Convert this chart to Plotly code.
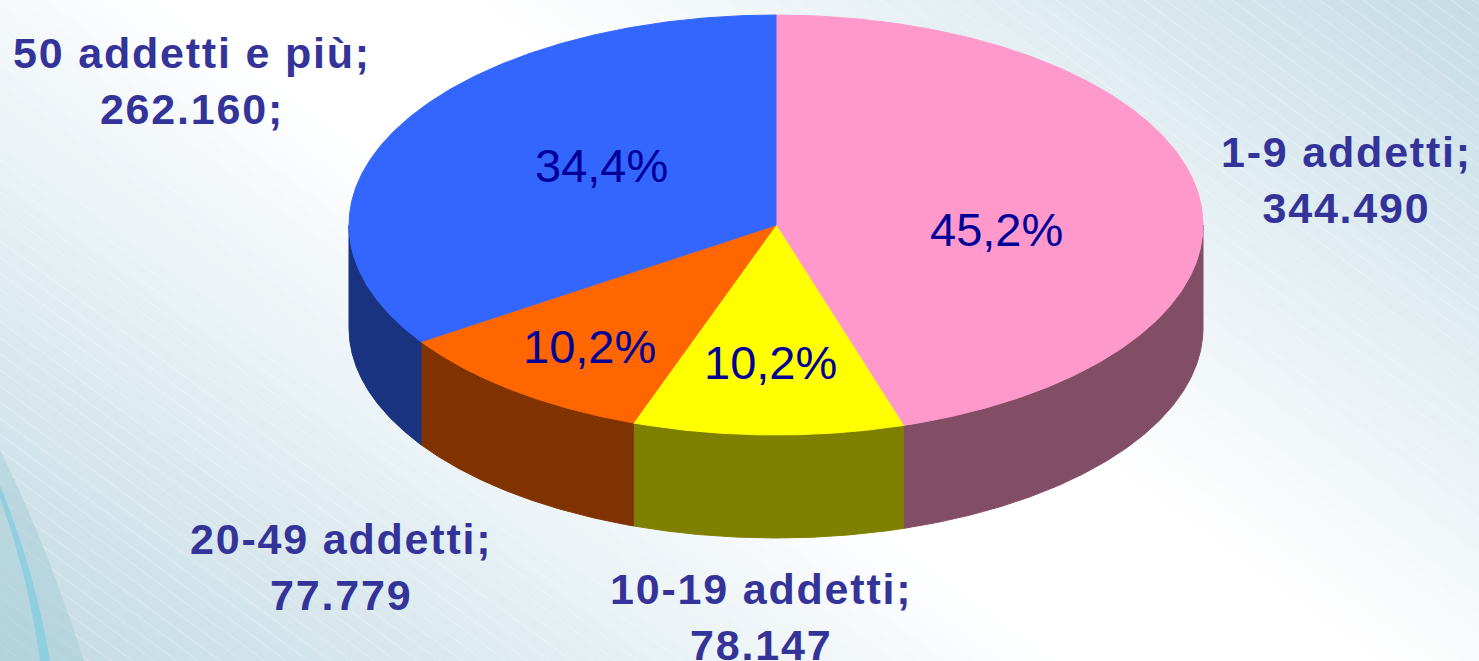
import numpy as np
import plotly.graph_objects as go

# ---------------- data ----------------
categories = ["1-9 addetti", "10-19 addetti", "20-49 addetti", "50 addetti e più"]
values = [344490, 78147, 77779, 262160]
value_suffix = ["", "", "", ";"]

# ---------------- style ----------------
top_colors = ["#FF99CC", "#FFFF00", "#FF6600", "#3366FF"]
side_colors = ["#824E66", "#808000", "#803300", "#1A3380"]
pct_color = "#000099"
label_color = "#333399"

W, H = 1479, 661
CX, CY, RX, RY, DEPTH = 776, 225, 427, 210, 103

# label anchor positions (layout)
pct_pos = [(996, 229), (770, 362), (589, 346), (601, 165)]
outer_pos = [(1346, 180), (761, 617), (341, 567), (192, 81)]


def fmt_int(v):
    return f"{v:,}".replace(",", ".")


def fmt_pct(p):
    return f"{p:.1f}".replace(".", ",") + "%"


def ell(t_deg, dy=0.0):
    t = np.radians(t_deg)
    return CX + RX * np.sin(t), CY - RY * np.cos(t) + dy


total = sum(values)
fracs = [v / total for v in values]
edges = np.concatenate([[0], np.cumsum(fracs)]) * 360.0

fig = go.Figure()

# ---------------- background (diagonal gradient bands) ----------------
def hex2rgb(h):
    h = h.lstrip("#")
    return np.array([int(h[i:i + 2], 16) for i in (0, 2, 4)], dtype=float)


c_white = hex2rgb("#ffffff")
c_blue = hex2rgb("#c2dae4")
p0 = np.array([760.0, 320.0])
nvec = np.array([661.0, -900.0])
nvec /= np.linalg.norm(nvec)
dvec = np.array([900.0, 661.0])
dvec /= np.linalg.norm(dvec)
shapes = []
step = 16
for s in np.arange(-900, 900, step):
    sm = abs(s + step / 2)
    t = np.clip((sm - 90) / (720 - 90), 0, 1)
    c = c_white + (c_blue - c_white) * t
    col = "rgb(%d,%d,%d)" % tuple(np.round(c))
    a = p0 + s * nvec
    b = p0 + (s + step + 1) * nvec
    L = 2500
    pts = [a - L * dvec, a + L * dvec, b + L * dvec, b - L * dvec]
    path = "M " + " L ".join(f"{p[0]:.1f},{p[1]:.1f}" for p in pts) + " Z"
    shapes.append(dict(type="path", path=path, xref="x", yref="y",
                       fillcolor=col, line=dict(width=0), layer="below"))

# faint diagonal texture lines
for s in np.arange(-1400, 1400, 13):
    a = p0 + s * nvec
    pts = [a - 2500 * dvec, a + 2500 * dvec]
    shapes.append(dict(type="line", x0=pts[0][0], y0=pts[0][1], x1=pts[1][0], y1=pts[1][1],
                       xref="x", yref="y", line=dict(color="rgba(255,255,255,0.35)", width=1),
                       layer="below"))

# swoosh bottom-left
shapes.append(dict(type="path", path="M 0,450 Q 45,540 84,661 L 0,661 Z", xref="x", yref="y",
                   fillcolor="rgba(170,205,215,0.55)", line=dict(width=0), layer="below"))
shapes.append(dict(type="path", path="M 0,498 Q 28,575 40,661 L 50,661 Q 36,575 0,485 Z",
                   xref="x", yref="y", fillcolor="rgba(140,206,224,0.9)", line=dict(width=0),
                   layer="below"))

# ---------------- side walls (front half only) ----------------
for i in range(len(values)):
    a0, a1 = edges[i], edges[i + 1]
    s0, s1 = max(a0, 90.0), min(a1, 270.0)
    if s1 <= s0:
        continue
    tt = np.linspace(s0, s1, 200)
    xt, yt = ell(tt)
    xb, yb = ell(tt, DEPTH)
    xs = np.concatenate([xt, xb[::-1], xt[:1]])
    ys = np.concatenate([yt, yb[::-1], yt[:1]])
    fig.add_trace(go.Scatter(x=xs, y=ys, mode="lines", fill="toself",
                             fillcolor=side_colors[i],
                             line=dict(color=side_colors[i], width=1),
                             hoverinfo="skip", showlegend=False))

# ---------------- top faces ----------------
for i in range(len(values)):
    a0, a1 = edges[i], edges[i + 1]
    tt = np.linspace(a0, a1, 300)
    xa, ya = ell(tt)
    xs = np.concatenate([[CX], xa, [CX]])
    ys = np.concatenate([[CY], ya, [CY]])
    fig.add_trace(go.Scatter(x=xs, y=ys, mode="lines", fill="toself",
                             fillcolor=top_colors[i],
                             line=dict(color=top_colors[i], width=1),
                             hoverinfo="skip", showlegend=False, name=categories[i]))

# ---------------- labels ----------------
annotations = []
for i in range(len(values)):
    px, py = pct_pos[i]
    annotations.append(dict(x=px, y=py, xref="x", yref="y", showarrow=False,
                            text=fmt_pct(fracs[i] * 100),
                            font=dict(family="Liberation Sans, Arial, sans-serif",
                                      size=47, color=pct_color),
                            xanchor="center", yanchor="middle"))
    ox, oy = outer_pos[i]
    txt = (f'<span style="letter-spacing:1.8px">{categories[i]};</span><br>'
           f'<span style="letter-spacing:1.8px">{fmt_int(values[i])}{value_suffix[i]}</span>')
    annotations.append(dict(x=ox, y=oy, xref="x", yref="y", showarrow=False,
                            text=txt, align="center",
                            font=dict(family="Liberation Sans, Arial, sans-serif",
                                      size=43, color=label_color, weight="bold"),
                            xanchor="center", yanchor="middle"))

fig.update_layout(
    width=W, height=H,
    margin=dict(l=0, r=0, t=0, b=0),
    paper_bgcolor="#ffffff",
    plot_bgcolor="rgba(0,0,0,0)",
    xaxis=dict(range=[0, W], visible=False, fixedrange=True),
    yaxis=dict(range=[H, 0], visible=False, fixedrange=True),
    shapes=shapes,
    annotations=annotations,
    showlegend=False,
)

fig.write_html("out.html", config={"displayModeBar": False},
               post_script="document.body.style.margin='0';document.body.style.overflow='hidden';")
